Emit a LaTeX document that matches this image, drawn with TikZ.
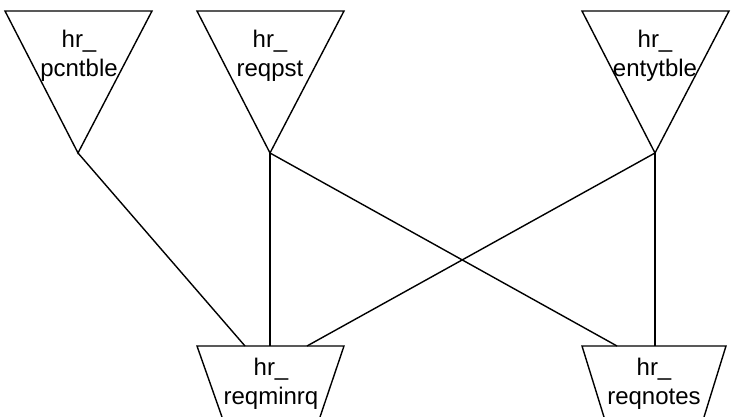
\documentclass[tikz,border=0pt]{standalone}
\usepackage{fontspec}
\setmainfont{Liberation Sans}
\begin{document}
\begin{tikzpicture}[x=1pt,y=-1pt,
  shapeline/.style={line width=1.4pt,line join=miter},
  conn/.style={line width=1.4pt},
  lbl/.style={align=center,anchor=north,inner sep=0pt,font=\fontsize{24}{29}\selectfont}]
\useasboundingbox (0,0) rectangle (737,417);
% top inverted triangles
\draw[shapeline] (5,11) -- (152,11) -- (78,153) -- cycle;
\draw[shapeline] (197,11) -- (344,11) -- (270,153) -- cycle;
\draw[shapeline] (582,11) -- (729,11) -- (655,153) -- cycle;
% bottom shapes (cut by the border)
\draw[shapeline] (222,417) -- (197,346) -- (344,346) -- (320,417);
\draw[shapeline] (604,417) -- (582,346) -- (726,346) -- (704,417);
% labels
\node[lbl] (pcntble) at (79,29.5) {hr\_\\pcntble};
\node[lbl] (reqpst) at (270,29.5) {hr\_\\reqpst};
\node[lbl] (entytble) at (655,29.5) {hr\_\\entytble};
\node[lbl] (reqminrq) at (271,357.5) {hr\_\\reqminrq};
\node[lbl] (reqnotes) at (654,357.5) {hr\_\\reqnotes};
% attach points
\coordinate (pcA) at (78,153);
\coordinate (rpA) at (270,153);
\coordinate (enA) at (655,153);
\coordinate (rmL) at (245,346);
\coordinate (rmC) at (270,346);
\coordinate (rmR) at (307,346);
\coordinate (rnL) at (617,346);
\coordinate (rnC) at (655,346);
% connectors
\draw[conn] (pcA) -- (rmL);
\draw[conn] (rpA) -- (rmC);
\draw[conn] (rpA) -- (rnL);
\draw[conn] (enA) -- (rnC);
\draw[conn] (enA) -- (rmR);
\end{tikzpicture}
\end{document}
